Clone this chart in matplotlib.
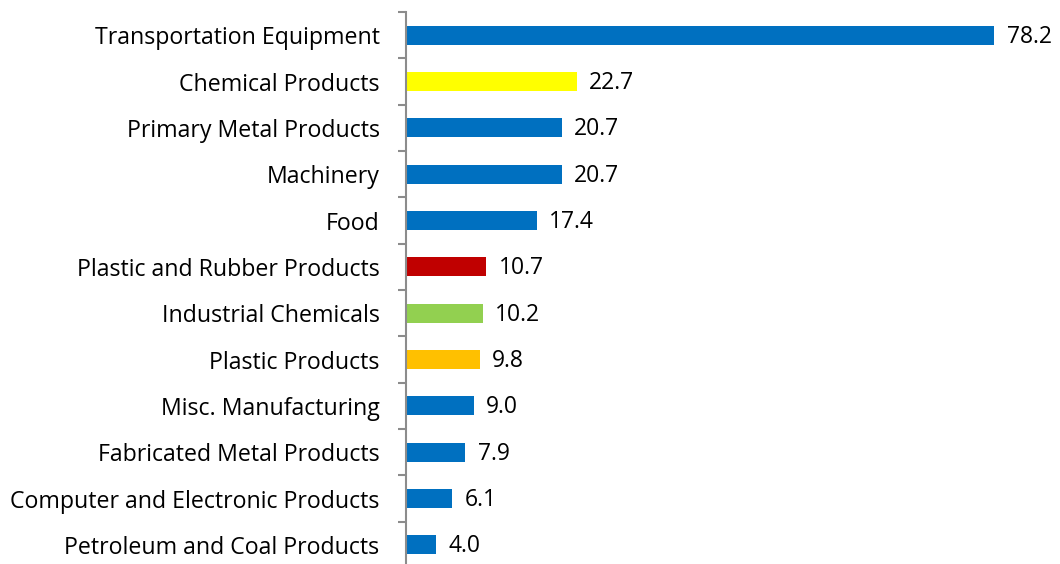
import matplotlib.pyplot as plt

categories = ["Transportation Equipment", "Chemical Products", "Primary Metal Products",
              "Machinery", "Food", "Plastic and Rubber Products", "Industrial Chemicals",
              "Plastic Products", "Misc. Manufacturing", "Fabricated Metal Products",
              "Computer and Electronic Products", "Petroleum and Coal Products"]
values = [78.2, 22.7, 20.7, 20.7, 17.4, 10.7, 10.2, 9.8, 9.0, 7.9, 6.1, 4.0]
colors = ["#0070C0", "#FFFF00", "#0070C0", "#0070C0", "#0070C0", "#C00000",
          "#92D050", "#FFC000", "#0070C0", "#0070C0", "#0070C0", "#0070C0"]

plt.rcParams['font.family'] = ['Open Sans', 'DejaVu Sans']

fig = plt.figure(figsize=(10.6, 5.64), dpi=100)
ax = fig.add_axes([406 / 1060, -4 / 564, 654 / 1060, 556 / 564])

y = list(range(len(categories)))
ax.barh(y, values, height=0.41, color=colors)
for yi, v in zip(y, values):
    ax.annotate(f"{v:.1f}", (v, yi), xytext=(9, -1), textcoords="offset points",
                va="center", ha="left", fontsize=16.5)

ax.set_xlim(0, 654 / 7.52)
ax.set_ylim(len(categories) - 0.5, -0.5)
ax.set_yticks(y)
ax.set_yticklabels(categories, fontsize=16.7)
ax.set_yticks([i - 0.5 for i in range(len(categories) + 1)], minor=True)
ax.tick_params(axis='y', which='major', length=0, pad=19)
ax.tick_params(axis='y', which='minor', length=6, width=1.5, color="#8C8C8C")
ax.set_xticks([])
for s in ["top", "right", "bottom"]:
    ax.spines[s].set_visible(False)
ax.spines["left"].set_color("#8C8C8C")
ax.spines["left"].set_linewidth(1.5)

fig.savefig("out.png", dpi=100)
